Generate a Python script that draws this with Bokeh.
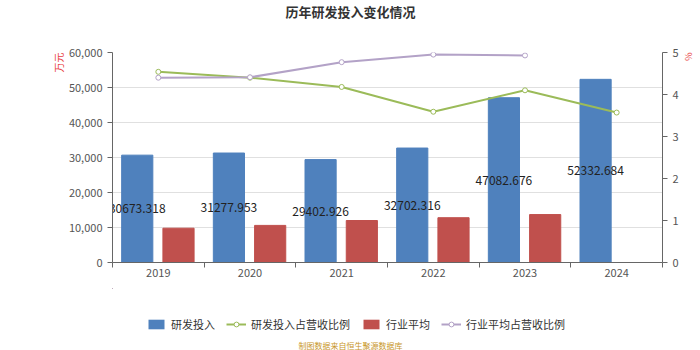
import numpy as np
from bokeh.plotting import figure
from bokeh.layouts import column
from bokeh.models import (Range1d, LinearAxis, FixedTicker, NumeralTickFormatter, Legend,
                          LegendItem, Title, Label, ColumnDataSource)
from bokeh.transform import dodge
from bokeh.embed import file_html
from bokeh.resources import INLINE
from bokeh.core.properties import value

years = ["2019", "2020", "2021", "2022", "2023", "2024"]
rd_invest = [30673.318, 31277.953, 29402.926, 32702.316, 47082.676, 52332.684]
rd_ratio = [4.54, 4.40, 4.18, 3.59, 4.10, 3.57]
ind_years = ["2019", "2020", "2021", "2022", "2023"]
ind_avg = [9800, 10600, 12000, 12800, 13700]
ind_ratio = [4.40, 4.41, 4.77, 4.95, 4.93]
left_ticks = [0, 10000, 20000, 30000, 40000, 50000, 60000]
right_ticks = [0, 1, 2, 3, 4, 5]
series_names = ["研发投入", "研发投入占营收比例", "行业平均", "行业平均占营收比例"]

FONT = "Noto Sans CJK SC"
BLUE = "#4f81bd"
RED = "#c0504d"
GREEN = "#9bbb59"
PURPLE = "#b3a2c7"

# Frames of all three stacked figures are aligned by the column layout:
# they span x = 112 .. 662 of the page, so screen x below is measured from 112.
FRAME_MID = 238

# ---------- title strip ----------
p0 = figure(width=700, height=40, output_backend="svg", toolbar_location=None,
            x_axis_type=None, y_axis_type=None, x_range=Range1d(0, 1), y_range=Range1d(0, 1),
            min_border=0)
p0.outline_line_color = None
p0.add_layout(Label(x=FRAME_MID, y=29, x_units="screen", y_units="screen", text="历年研发投入变化情况",
                    text_align="center", text_baseline="middle", text_font=FONT,
                    text_font_size="13px", text_font_style="bold", text_color="#333"))

# ---------- main chart ----------
pos = {y: i + 0.5 for i, y in enumerate(years)}
src = ColumnDataSource(dict(
    x=[pos[y] for y in years], v=rd_invest, half=[v / 2 for v in rd_invest],
    lab=[f"{v:.3f}" for v in rd_invest], ratio=rd_ratio))
src2 = ColumnDataSource(dict(x=[pos[y] for y in ind_years], v=ind_avg, ratio=ind_ratio))

p = figure(width=700, height=248, output_backend="svg", toolbar_location=None,
           x_range=Range1d(0, len(years)), y_range=Range1d(0, 60000),
           min_border_left=112, min_border_right=38, min_border_top=12, min_border_bottom=26)
p.extra_y_ranges = {"pct": Range1d(0, 5)}
p.outline_line_color = None

p.vbar(x=dodge("x", -0.23), top="v", width=0.34, source=src, fill_color=BLUE, line_color=BLUE)
p.vbar(x=dodge("x", 0.22), top="v", width=0.34, source=src2, fill_color=RED, line_color=RED)
p.text(x=dodge("x", -0.23), y="half", text="lab", source=src, text_align="center",
       text_baseline="middle", text_font=value(FONT), text_font_size="12px", text_color="#222")

p.line(x="x", y="ratio", source=src, y_range_name="pct", line_color=GREEN, line_width=2)
p.scatter(x="x", y="ratio", source=src, y_range_name="pct", size=5, fill_color="white",
          line_color=GREEN, line_width=1)
p.line(x="x", y="ratio", source=src2, y_range_name="pct", line_color=PURPLE, line_width=2)
p.scatter(x="x", y="ratio", source=src2, y_range_name="pct", size=5, fill_color="white",
          line_color=PURPLE, line_width=1)

xa = p.xaxis[0]
xa.ticker = FixedTicker(ticks=[pos[y] for y in years], minor_ticks=list(range(len(years) + 1)))
xa.major_label_overrides = {pos[y]: y for y in years}
ya = p.yaxis[0]
ya.ticker = FixedTicker(ticks=left_ticks)
ya.formatter = NumeralTickFormatter(format="0,0")
ra = LinearAxis(y_range_name="pct", ticker=FixedTicker(ticks=right_ticks))
p.add_layout(ra, "right")

for ax in (xa, ya, ra):
    ax.axis_line_color = "#666"
    ax.major_label_text_color = "#555"
    ax.major_label_text_font = FONT
    ax.major_label_text_font_size = "11px"
    ax.major_tick_in = 0
    ax.major_tick_out = 5
    ax.major_tick_line_color = "#666"
    ax.minor_tick_line_color = None
xa.major_tick_line_color = None
xa.minor_tick_line_color = "#666"
xa.minor_tick_out = 5
xa.minor_tick_in = 0
xa.major_label_standoff = 1

p.xgrid.visible = False
p.ygrid.ticker = FixedTicker(ticks=left_ticks)
p.ygrid.grid_line_color = "#e0e0e0"

p.add_layout(Title(text="万元", align="right", text_font=FONT, text_font_size="10px",
                   text_font_style="normal", text_color="#e84040", standoff=0), "left")
p.add_layout(Title(text="%", align="left", text_font=FONT, text_font_size="9px",
                   text_font_style="normal", text_color="#e84040", standoff=0), "right")

# ---------- legend + source strip ----------
# legend keys reuse the chart's data but sit entirely outside this strip's visible ranges
p2 = figure(width=700, height=62, output_backend="svg", toolbar_location=None,
            x_axis_type=None, y_axis_type=None, x_range=Range1d(100, 101), y_range=Range1d(-200000, -100000),
            min_border=0)
p2.outline_line_color = None
k1 = p2.vbar(x="x", top="v", width=0.1, source=src, fill_color=BLUE, line_color=None)
k2a = p2.line(x="x", y="ratio", source=src, line_color=GREEN, line_width=2)
k2b = p2.scatter(x="x", y="ratio", source=src, size=9, fill_color="white", line_color=GREEN, line_width=1)
k3 = p2.vbar(x="x", top="v", width=0.1, source=src2, fill_color=RED, line_color=None)
k4a = p2.line(x="x", y="ratio", source=src2, line_color=PURPLE, line_width=2)
k4b = p2.scatter(x="x", y="ratio", source=src2, size=9, fill_color="white", line_color=PURPLE, line_width=1)
legend = Legend(items=[
    LegendItem(label=series_names[0], renderers=[k1]),
    LegendItem(label=series_names[1], renderers=[k2a, k2b]),
    LegendItem(label=series_names[2], renderers=[k3]),
    LegendItem(label=series_names[3], renderers=[k4a, k4b]),
], orientation="horizontal", location=(34, 18), border_line_color=None,
    label_text_font=FONT, label_text_font_size="11px", label_text_color="#333",
    glyph_width=20, glyph_height=12, spacing=11, label_standoff=5, padding=2, margin=0,
    background_fill_alpha=0)
p2.add_layout(legend, "center")
p2.add_layout(Label(x=FRAME_MID, y=5, x_units="screen", y_units="screen", text="制图数据来自恒生聚源数据库",
                    text_align="center", text_baseline="middle", text_font=FONT,
                    text_font_size="8px", text_color="#c8962a"))

layout = column(p0, p, p2, spacing=0)
open("out.html", "w").write(file_html(layout, INLINE))
